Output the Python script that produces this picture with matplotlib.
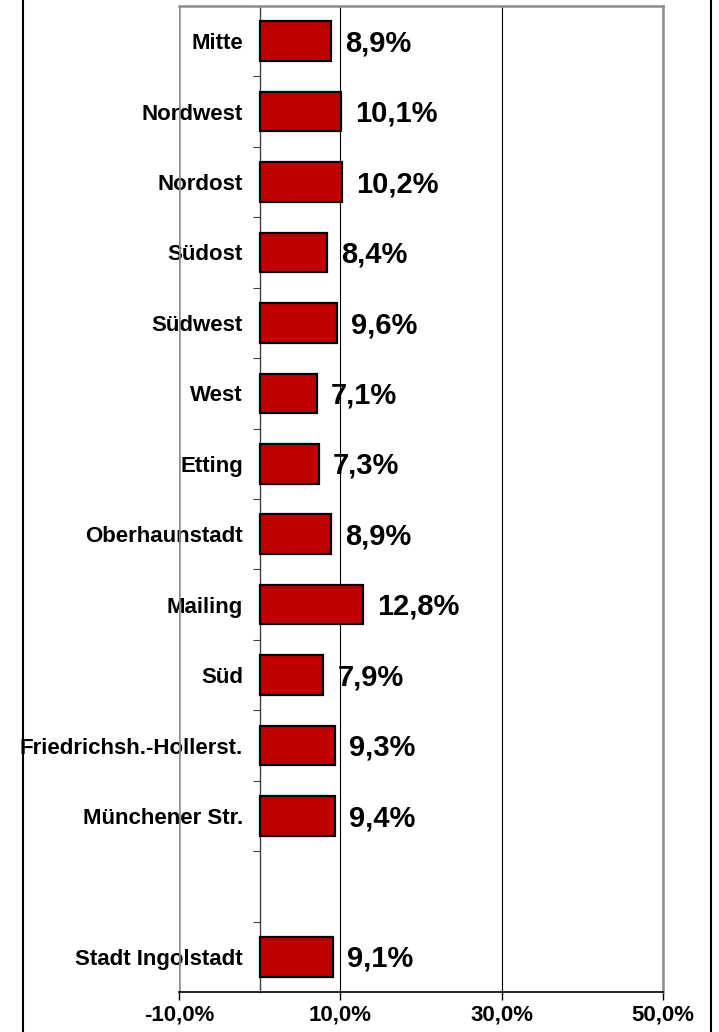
import numpy as np
import matplotlib.pyplot as plt
from matplotlib.lines import Line2D

plt.rcParams['font.family'] = ['Liberation Sans', 'DejaVu Sans']

# data (share in percent)
districts = ['Mitte', 'Nordwest', 'Nordost', 'Südost', 'Südwest', 'West', 'Etting',
             'Oberhaunstadt', 'Mailing', 'Süd', 'Friedrichsh.-Hollerst.',
             'Münchener Str.', '', 'Stadt Ingolstadt']
shares = [8.9, 10.1, 10.2, 8.4, 9.6, 7.1, 7.3, 8.9, 12.8, 7.9, 9.3, 9.4, None, 9.1]
xticks = [-10, 10, 30, 50]


def pct(v):
    return f'{v:.1f}'.replace('.', ',') + '%'


fig = plt.figure(figsize=(7.19, 10.32), dpi=100)
ax = fig.add_axes([179 / 719, 40 / 1032, 484 / 719, 986 / 1032])

pos = [i for i, v in enumerate(shares) if v is not None]
vals = [v for v in shares if v is not None]
ax.barh(pos, vals, height=0.56, color='#C00000', edgecolor='black', linewidth=1.6, zorder=3)

for p, v in zip(pos, vals):
    ax.annotate(pct(v), xy=(v, p), xytext=(10, -1.5), textcoords='offset points',
                ha='left', va='center', fontsize=21, fontweight='bold', zorder=4)

ax.set_xlim(-10, 50)
ax.set_ylim(13.5, -0.5)

# gridlines at the value ticks
for x in [10, 30]:
    ax.axvline(x, color='black', lw=0.8, zorder=1)

# category axis crossing at 0
ax.spines['left'].set_position(('data', 0))
ax.spines['left'].set_color('#404040')
ax.spines['left'].set_linewidth(1.0)
ax.axvline(-10, color='#8c8c8c', lw=1.8, zorder=2)
for s in ['top', 'right']:
    ax.spines[s].set_color('#8c8c8c')
    ax.spines[s].set_linewidth(1.8)
ax.spines['bottom'].set_color('black')
ax.spines['bottom'].set_linewidth(1.2)

ax.set_yticks(range(len(districts)))
ax.set_yticklabels(districts, fontsize=16, fontweight='bold')
ax.tick_params(axis='y', which='major', length=0, pad=12)
for lab in ax.get_yticklabels():
    lab.set_va('center_baseline')
ax.set_yticks(np.arange(-0.5, 13.0, 1.0), minor=True)
ax.tick_params(axis='y', which='minor', length=5, width=0.8, direction='out', color='#404040')

ax.set_xticks(xticks)
ax.set_xticklabels([pct(x) for x in xticks], fontsize=16, fontweight='bold')
ax.tick_params(axis='x', length=6, width=1, direction='out', pad=3)

# outer frame lines of the original figure
fig.add_artist(Line2D([23 / 719, 23 / 719], [0, 1], color='black', lw=1.5, transform=fig.transFigure))
fig.add_artist(Line2D([711 / 719, 711 / 719], [0, 1], color='black', lw=1.5, transform=fig.transFigure))

fig.savefig('out.png', dpi=100)
